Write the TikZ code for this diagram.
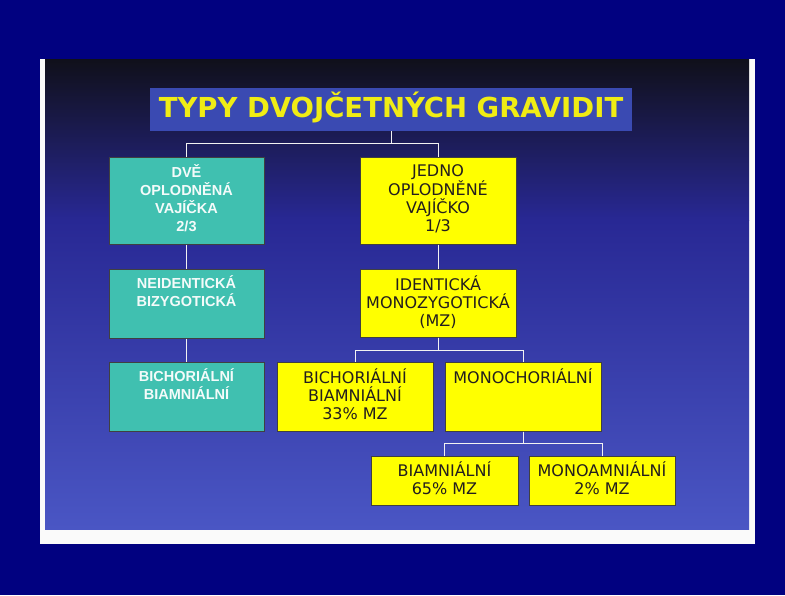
\documentclass[tikz,border=0pt]{standalone}
\usepackage{fontspec}
\setmainfont{DejaVu Sans}
\newfontfamily\tealfont{Liberation Sans}
\usetikzlibrary{calc}
\usetikzlibrary{positioning}

\definecolor{navy}{RGB}{1,1,128}
\definecolor{slidetop}{RGB}{16,16,26}
\definecolor{slidemid}{RGB}{40,40,148}
\definecolor{slidebot}{RGB}{74,86,196}
\definecolor{titleblue}{RGB}{58,74,178}
\definecolor{titleyellow}{RGB}{240,236,20}
\definecolor{turq}{RGB}{64,192,176}
\definecolor{boxyellow}{RGB}{255,255,0}
\definecolor{textdark}{RGB}{35,30,30}

\begin{document}
\begin{tikzpicture}[x=1pt, y=-1pt,
    box/.style={draw=black!75, line width=0.7pt, anchor=north, inner sep=0pt, align=center},
    twobox/.style={box, fill=turq, text=white!94!turq, minimum width=155pt,
        font=\tealfont\bfseries\fontsize{14.5}{18}\selectfont},
    onebox/.style={box, fill=boxyellow, text=textdark, minimum width=156pt,
        font=\fontsize{16}{18}\selectfont},
    link/.style={white!90!gray, line width=0.7pt}]
    \useasboundingbox (0,0) rectangle (785,595);
    \fill[navy] (0,0) rectangle (785,595);
    \fill[white!96!gray] (40,59) rectangle (755,544);
    \shade[top color=slidetop, bottom color=slidemid] (45,59) rectangle (749,220);
    \shade[top color=slidemid, bottom color=slidebot] (45,220) rectangle (749,529);

    \node[fill=titleblue, minimum width=482pt, minimum height=43pt, inner sep=0pt,
        text height=19pt, text depth=4pt, text=titleyellow,
        font=\bfseries\fontsize{27.5}{30}\selectfont] (title) at (391,109.5) {TYPY DVOJČETNÝCH GRAVIDIT};

    \node[twobox, text height=74pt, text depth=13pt] (dve) at (186.5,157) {DVĚ\\OPLODNĚNÁ\\VAJÍČKA\\2/3};
    \node[twobox, text height=37pt, text depth=32pt] (neid) at (186.5,269) {NEIDENTICKÁ\\BIZYGOTICKÁ};
    \node[twobox, text height=37pt, text depth=32pt] (bichor) at (186.5,362) {BICHORIÁLNÍ\\BIAMNIÁLNÍ};

    \node[onebox, text height=74pt, text depth=13pt] (jedno) at (438,157) {JEDNO\\OPLODNĚNÉ\\VAJÍČKO\\1/3};
    \node[onebox, text height=57pt, text depth=11pt] (ident) at (438,269) {IDENTICKÁ\\MONOZYGOTICKÁ\\(MZ)};
    \node[onebox, text height=57pt, text depth=12pt] (bibi) at (355,362) {BICHORIÁLNÍ\\BIAMNIÁLNÍ\\33\% MZ};
    \node[onebox, text height=21pt, text depth=48pt] (mono) at (523,362) {MONOCHORIÁLNÍ};
    \node[onebox, text height=38pt, text depth=11pt, minimum width=147pt] (biam) at (444.5,456) {BIAMNIÁLNÍ\\65\% MZ};
    \node[onebox, text height=38pt, text depth=11pt, minimum width=146pt] (monoam) at (602,456) {MONOAMNIÁLNÍ\\2\% MZ};

    \draw[link] (title.south) -- ++(0,12) -| (dve.north);
    \draw[link] (title.south) -- ++(0,12) -| (jedno.north);
    \draw[link] (dve) -- (neid);
    \draw[link] (neid) -- (bichor);
    \draw[link] (jedno) -- (ident);
    \draw[link] (ident.south) -- ++(0,13) -| (bibi.north);
    \draw[link] (ident.south) -- ++(0,13) -| (mono.north);
    \draw[link] (mono.south) -- ++(0,12) -| (biam.north);
    \draw[link] (mono.south) -- ++(0,12) -| (monoam.north);
\end{tikzpicture}
\end{document}
